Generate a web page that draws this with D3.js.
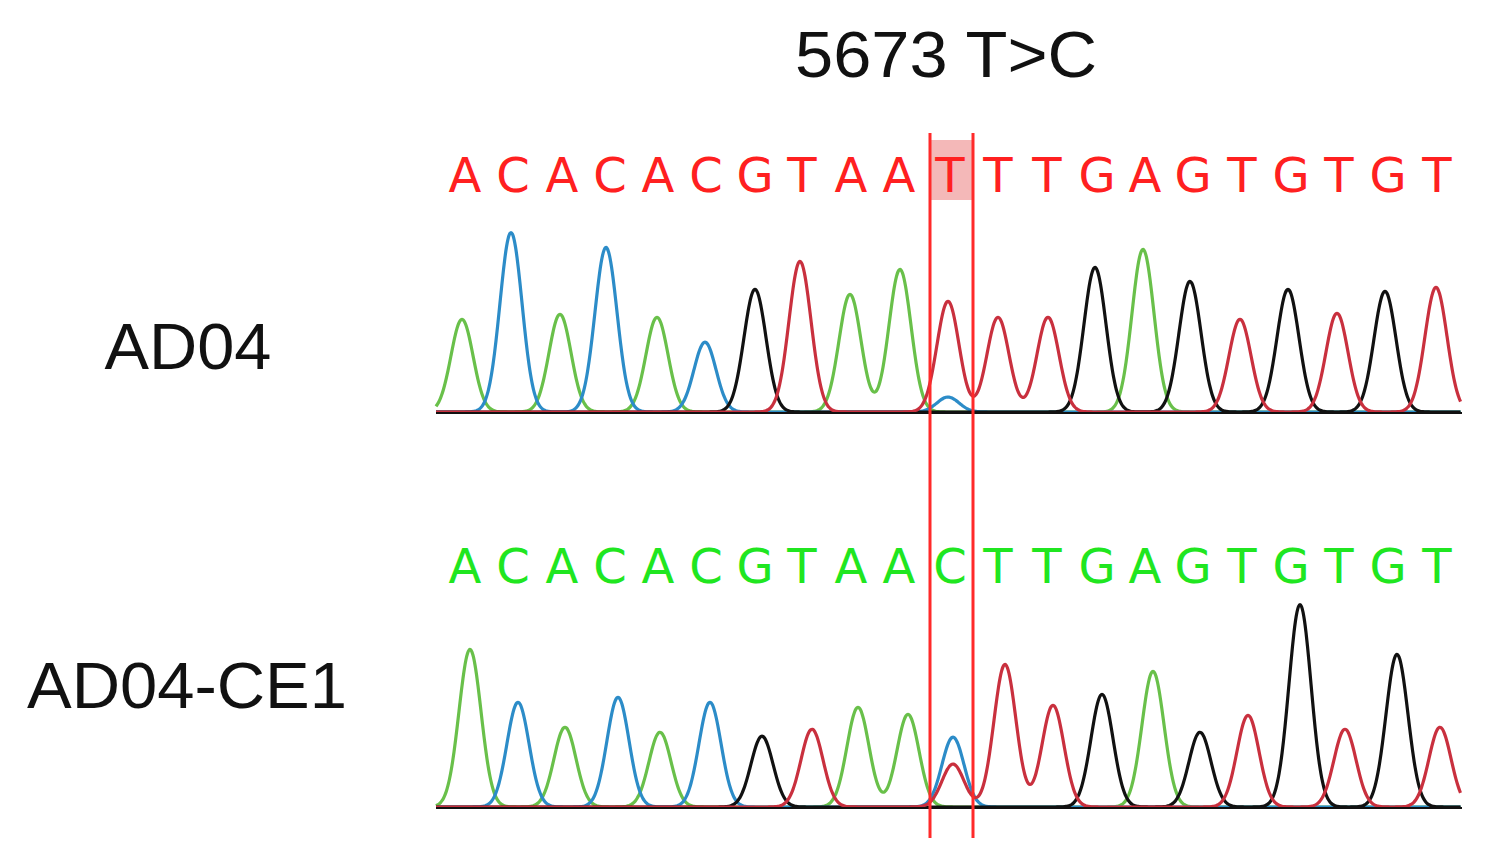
<!DOCTYPE html>
<html><head><meta charset="utf-8">
<script src="https://cdn.jsdelivr.net/npm/d3@7"></script>
<style>body{margin:0;background:#fff}</style></head>
<body><svg id="c" width="1492" height="865"></svg>
<script>
// sequence read (same for both traces except the mutated base)
const seqTop = "ACACACGTAATTTGAGTGTGT".split("");
const seqBottom = "ACACACGTAACTTGAGTGTGT".split("");
// peak heights (signal units, 0-200) for the called base of each position
const peaksTop = [93, 180, 98, 165, 95, 70, 123, 151, 118, 143, 111, 95, 95, 145, 163, 131, 93, 123, 99, 121, 125];
const peaksBottom = [158, 105, 80, 110, 75, 105, 71, 78, 100, 93, 70, 143, 102, 113, 136, 75, 92, 203, 78, 153, 80];
// secondary peaks: [position index, base, height]
const extraTop = [[10, "C", 15]];
const extraBottom = [[10, "T", 43]];
const peakXTop = [462, 511, 560, 606, 657, 705, 755, 800, 850, 900, 948, 998, 1048, 1095, 1143, 1190, 1240, 1288, 1337, 1385, 1436];
const peakXBottom = [470, 518, 565, 618, 660, 710, 762, 812, 858, 908, 953, 1005, 1053, 1102, 1153, 1200, 1248, 1300, 1345, 1397, 1440];
const letterX = [465, 513, 562, 610, 658, 706, 755, 802, 851, 899, 950, 998, 1047, 1097, 1145, 1193, 1242, 1291, 1339, 1388, 1437];

const colors = {A: "#69c04a", C: "#2c8cc8", G: "#111111", T: "#c9303e"};
const svg = d3.select("#c");
const x = d3.scaleLinear().domain([0, 1492]).range([0, 1492]);

function panel(seq, peaks, peakX, extra, base, letterY, letterColor) {
  const y = d3.scaleLinear().domain([0, 200]).range([base, base - 200]);
  const samples = d3.range(436, 1462, 1.5);
  Object.keys(colors).forEach(b => {
    const list = [];
    seq.forEach((s, i) => { if (s === b) list.push([peakX[i], peaks[i]]); });
    extra.forEach(e => { if (e[1] === b) list.push([peakX[e[0]], e[2]]); });
    const f = t => d3.sum(list, p => p[1] * Math.exp(-((t - p[0]) ** 2) / (2 * 11 * 11)));
    svg.append("path")
      .attr("d", d3.line().x(t => x(t)).y(t => y(f(t) + 1)).curve(d3.curveBasis)(samples))
      .attr("fill", "none").attr("stroke", colors[b]).attr("stroke-width", 3.2);
  });
  svg.append("line").attr("x1", 436).attr("x2", 1462).attr("y1", base).attr("y2", base)
    .attr("stroke", "#111").attr("stroke-width", 2);
  svg.selectAll(null).data(seq).enter().append("text")
    .attr("x", (d, i) => x(letterX[i])).attr("y", letterY)
    .attr("text-anchor", "middle").attr("font-family", "DejaVu Sans")
    .attr("font-size", 48).attr("fill", letterColor).text(d => d);
}

svg.append("rect").attr("x", 930).attr("y", 140).attr("width", 43).attr("height", 60).attr("fill", "#f4b8b8");
panel(seqTop, peaksTop, peakXTop, extraTop, 413, 192, "#ff2020");
panel(seqBottom, peaksBottom, peakXBottom, extraBottom, 808, 583, "#20e620");

[930, 973].forEach(v => svg.append("line").attr("x1", v).attr("x2", v).attr("y1", 133).attr("y2", 838)
  .attr("stroke", "#ff2a2a").attr("stroke-width", 3));

const txt = (t, cx, cy, w) => svg.append("text").attr("x", cx).attr("y", cy).attr("text-anchor", "middle")
  .attr("font-family", "Liberation Sans, Arial").attr("font-size", 64).attr("fill", "#111")
  .attr("textLength", w).attr("lengthAdjust", "spacingAndGlyphs").text(t);
txt("5673 T>C", 946, 77, 302);
txt("AD04", 188, 369, 167);
txt("AD04-CE1", 187, 708, 320);
</script></body></html>
